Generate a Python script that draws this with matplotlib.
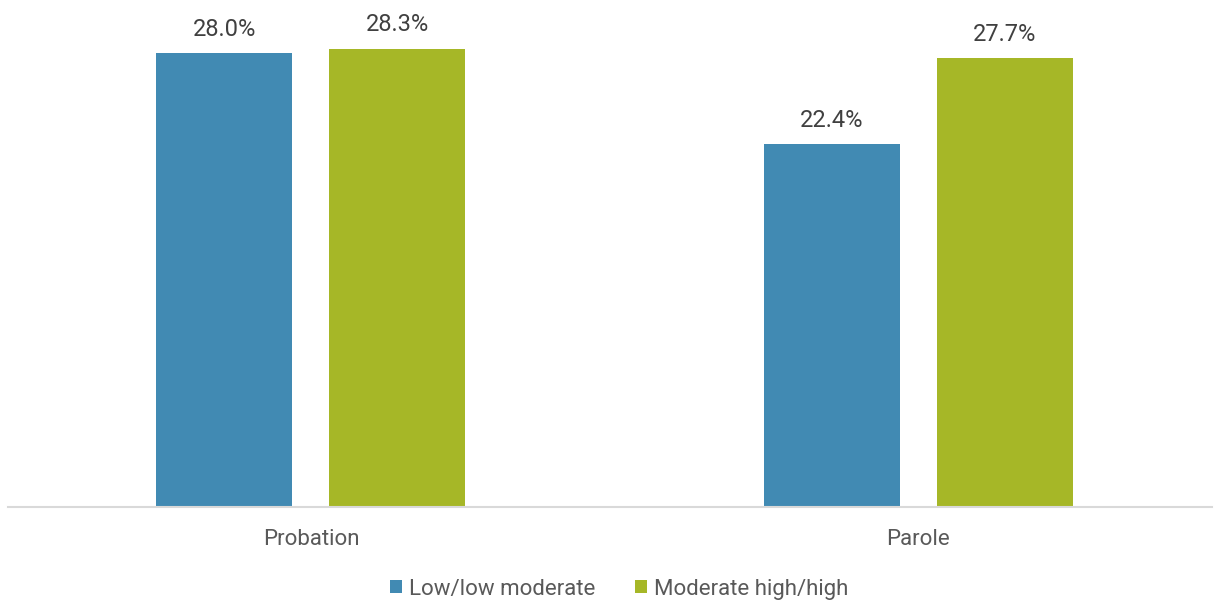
import numpy as np
import matplotlib
matplotlib.use("Agg")
import matplotlib.pyplot as plt

plt.rcParams['font.family'] = ['Roboto', 'DejaVu Sans']

categories = ["Probation", "Parole"]
series_names = ["Low/low moderate", "Moderate high/high"]
low_vals = [28.0, 22.4]
high_vals = [28.3, 27.7]
colors = ["#418AB3", "#A6B727"]

fig = plt.figure(figsize=(12.2, 6.01), dpi=100)
ax = fig.add_axes([8 / 1220, 94 / 601, 1204 / 1220, 486 / 601])

x = np.arange(len(categories))
width = 0.224
offset = 0.1425

bars = []
for vals, dx, col, name in zip([low_vals, high_vals], [-offset, offset], colors, series_names):
    b = ax.bar(x + dx, vals, width, color=col, label=name)
    bars.append(b)
    for rect, v in zip(b, vals):
        ax.annotate(f"{v:.1f}%", (rect.get_x() + rect.get_width() / 2, v),
                    xytext=(0, 9), textcoords="offset points",
                    ha="center", va="bottom", fontsize=17, color="#404040",
                    annotation_clip=False)

ax.set_xlim(-0.499, 1.484)
ax.set_ylim(0, 30)
ax.set_yticks([])
ax.set_xticks(x)
ax.set_xticklabels(categories, fontsize=16, color="#595959")
ax.tick_params(axis="x", length=0, pad=16)
for side in ["top", "right", "left"]:
    ax.spines[side].set_visible(False)
ax.spines["bottom"].set_color("#D9D9D9")
ax.spines["bottom"].set_linewidth(1.5)

leg = fig.legend(handles=bars, labels=series_names, loc="center",
                 bbox_to_anchor=(619 / 1220, 1 - 589 / 601), ncol=2, frameon=False,
                 fontsize=16, handlelength=0.55, handleheight=0.55,
                 handletextpad=0.3, columnspacing=1.8)
for t in leg.get_texts():
    t.set_color("#595959")

fig.savefig("out.png", dpi=100)
